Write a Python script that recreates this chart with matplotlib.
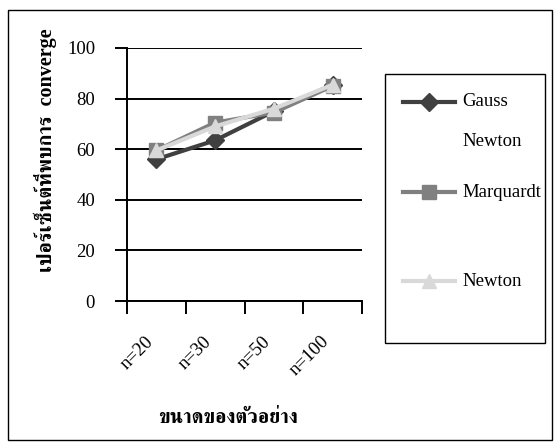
import matplotlib
matplotlib.use("Agg")
import matplotlib.pyplot as plt
from matplotlib.lines import Line2D
from matplotlib.patches import Rectangle

# sample sizes and % of runs that converged
categories = ["n=20", "n=30", "n=50", "n=100"]
gauss_newton = [56, 63.5, 75, 85.5]
marquardt = [59.5, 70.5, 74.5, 85]
newton = [59.5, 69, 76, 85.5]

series_names = ["Gauss\n\nNewton", "Marquardt", "Newton"]
series_colors = ["#404040", "#808080", "#d9d9d9"]
series_markers = ["D", "s", "^"]
series_msize = [9, 9.5, 10.5]

FONT = ["Liberation Serif", "FreeSerif"]
plt.rcParams["font.family"] = FONT

fig = plt.figure(figsize=(5.6, 4.48), dpi=100)
fig.patches.append(Rectangle((8 / 560, 8 / 448), 544 / 560, 430 / 448, transform=fig.transFigure,
                             fill=False, edgecolor="black", lw=1.0))

ax = fig.add_axes([127 / 560, 1 - 301 / 448, 235 / 560, 253 / 448])
x = list(range(len(categories)))
for ys, c, m, ms in zip([gauss_newton, marquardt, newton], series_colors, series_markers, series_msize):
    ax.plot(x, ys, color=c, lw=3, marker=m, ms=ms, mfc=c, mec=c, solid_capstyle="round", zorder=3)

ax.set_ylim(0, 100)
ax.set_xlim(-0.5, len(categories) - 0.5)
ax.set_yticks(range(0, 101, 20))
ax.yaxis.grid(True, color="black", lw=1.4)
ax.set_axisbelow(True)
ax.tick_params(axis="y", length=9, width=1.4, pad=14, labelsize=13.5)
ax.set_xticks([i - 0.5 for i in range(len(categories) + 1)])
ax.set_xticklabels([])
ax.set_xticks(x, minor=True)
ax.set_xticklabels(categories, minor=True, rotation=45, ha="right", va="top", fontsize=13.5)
ax.tick_params(axis="x", which="major", length=9, width=1.4)
ax.tick_params(axis="x", which="minor", length=0, pad=23)
for s in ["top", "right"]:
    ax.spines[s].set_visible(False)
for s in ["left", "bottom"]:
    ax.spines[s].set_linewidth(1.4)

fig.text(45 / 560, 1 - 150 / 448, "เปอร์เซ็นต์ที่พบการ  converge", rotation=90, ha="center", va="center",
         fontsize=14.5, fontweight="bold")
fig.text(228 / 560, 1 - 418 / 448, "ขนาดของตัวอย่าง", ha="center", va="center",
         fontsize=14.5, fontweight="bold")

# legend box, drawn by hand to mimic the spreadsheet layout
fig.patches.append(Rectangle((385 / 560, 1 - 343 / 448), 160 / 560, 269 / 448, transform=fig.transFigure,
                             fill=False, edgecolor="black", lw=1.0))
key_y = [102, 192, 281]
for name, c, m, ms, ky in zip(series_names, series_colors, series_markers, series_msize, key_y):
    fy = 1 - ky / 448
    fig.add_artist(Line2D([403 / 560, 455 / 560], [fy, fy], transform=fig.transFigure, color=c, lw=3))
    fig.add_artist(Line2D([429 / 560], [fy], transform=fig.transFigure, color=c, marker=m, ms=ms,
                          mfc=c, mec=c))
    lines = name.split("\n")
    fig.text(462 / 560, fy, lines[0], ha="left", va="center", fontsize=13.5)
    if len(lines) > 1:
        fig.text(462 / 560, 1 - 142 / 448, lines[-1], ha="left", va="center", fontsize=13.5)

fig.savefig("out.png", dpi=100)
